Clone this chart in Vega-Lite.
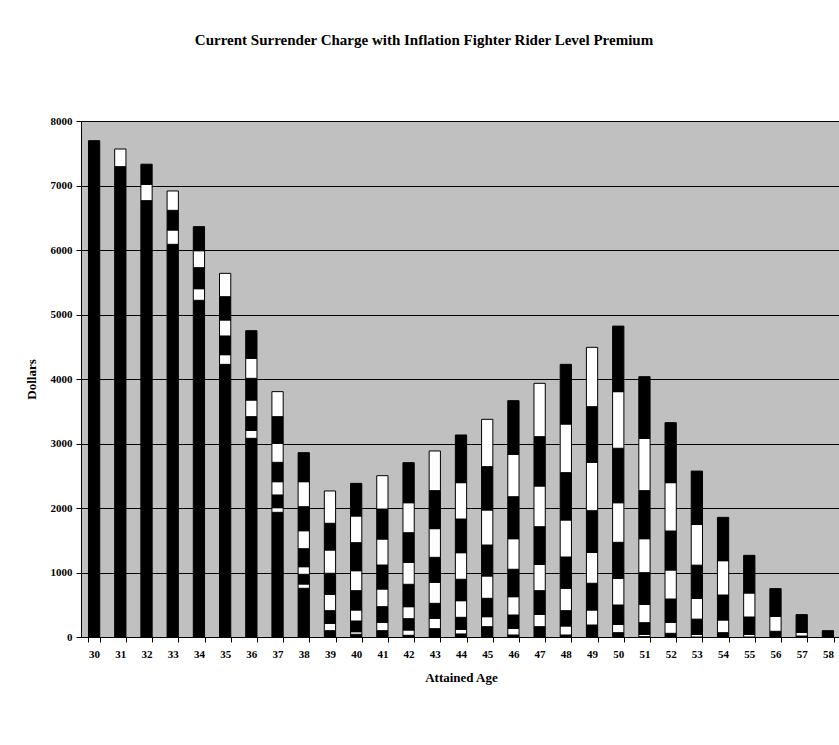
{
  "$schema": "https://vega.github.io/schema/vega-lite/v6.json",
  "width": 760,
  "height": 516,
  "autosize": {"type": "none"},
  "padding": {"left": 81, "top": 121, "right": 0, "bottom": 108},
  "background": "white",
  "title": {
    "text": "Current Surrender Charge with Inflation Fighter Rider Level Premium",
    "font": "Liberation Serif",
    "fontSize": 15,
    "fontWeight": "bold",
    "color": "black",
    "anchor": "middle",
    "dx": -37,
    "offset": 67
  },
  "data": {
    "values": [
      {"age": 30, "layer": 1, "value": 7695},
      {"age": 31, "layer": 1, "value": 7292}, {"age": 31, "layer": 2, "value": 274},
      {"age": 32, "layer": 1, "value": 6765}, {"age": 32, "layer": 2, "value": 254}, {"age": 32, "layer": 3, "value": 311},
      {"age": 33, "layer": 1, "value": 6088}, {"age": 33, "layer": 2, "value": 222}, {"age": 33, "layer": 3, "value": 305}, {"age": 33, "layer": 4, "value": 300},
      {"age": 34, "layer": 1, "value": 5220}, {"age": 34, "layer": 2, "value": 180}, {"age": 34, "layer": 3, "value": 326}, {"age": 34, "layer": 4, "value": 263}, {"age": 34, "layer": 5, "value": 373},
      {"age": 35, "layer": 1, "value": 4227}, {"age": 35, "layer": 2, "value": 150}, {"age": 35, "layer": 3, "value": 290}, {"age": 35, "layer": 4, "value": 248}, {"age": 35, "layer": 5, "value": 361}, {"age": 35, "layer": 6, "value": 362},
      {"age": 36, "layer": 1, "value": 3080}, {"age": 36, "layer": 2, "value": 124}, {"age": 36, "layer": 3, "value": 212}, {"age": 36, "layer": 4, "value": 258}, {"age": 36, "layer": 5, "value": 336}, {"age": 36, "layer": 6, "value": 311}, {"age": 36, "layer": 7, "value": 428},
      {"age": 37, "layer": 1, "value": 1933}, {"age": 37, "layer": 2, "value": 72}, {"age": 37, "layer": 3, "value": 197}, {"age": 37, "layer": 4, "value": 206}, {"age": 37, "layer": 5, "value": 300}, {"age": 37, "layer": 6, "value": 295}, {"age": 37, "layer": 7, "value": 413}, {"age": 37, "layer": 8, "value": 388},
      {"age": 38, "layer": 1, "value": 755}, {"age": 38, "layer": 2, "value": 67}, {"age": 38, "layer": 3, "value": 150}, {"age": 38, "layer": 4, "value": 118}, {"age": 38, "layer": 5, "value": 279}, {"age": 38, "layer": 6, "value": 279}, {"age": 38, "layer": 7, "value": 372}, {"age": 38, "layer": 8, "value": 388}, {"age": 38, "layer": 9, "value": 450},
      {"age": 39, "layer": 3, "value": 98}, {"age": 39, "layer": 4, "value": 114}, {"age": 39, "layer": 5, "value": 196}, {"age": 39, "layer": 6, "value": 254}, {"age": 39, "layer": 7, "value": 326}, {"age": 39, "layer": 8, "value": 361}, {"age": 39, "layer": 9, "value": 414}, {"age": 39, "layer": 10, "value": 501},
      {"age": 40, "layer": 3, "value": 42}, {"age": 40, "layer": 4, "value": 40}, {"age": 40, "layer": 5, "value": 166}, {"age": 40, "layer": 6, "value": 171}, {"age": 40, "layer": 7, "value": 299}, {"age": 40, "layer": 8, "value": 310}, {"age": 40, "layer": 9, "value": 434}, {"age": 40, "layer": 10, "value": 414}, {"age": 40, "layer": 11, "value": 506},
      {"age": 41, "layer": 5, "value": 98}, {"age": 41, "layer": 6, "value": 130}, {"age": 41, "layer": 7, "value": 242}, {"age": 41, "layer": 8, "value": 274}, {"age": 41, "layer": 9, "value": 372}, {"age": 41, "layer": 10, "value": 403}, {"age": 41, "layer": 11, "value": 465}, {"age": 41, "layer": 12, "value": 517},
      {"age": 42, "layer": 5, "value": 26}, {"age": 42, "layer": 6, "value": 83}, {"age": 42, "layer": 7, "value": 175}, {"age": 42, "layer": 8, "value": 186}, {"age": 42, "layer": 9, "value": 347}, {"age": 42, "layer": 10, "value": 341}, {"age": 42, "layer": 11, "value": 459}, {"age": 42, "layer": 12, "value": 465}, {"age": 42, "layer": 13, "value": 621},
      {"age": 43, "layer": 7, "value": 129}, {"age": 43, "layer": 8, "value": 161}, {"age": 43, "layer": 9, "value": 232}, {"age": 43, "layer": 10, "value": 326}, {"age": 43, "layer": 11, "value": 387}, {"age": 43, "layer": 12, "value": 445}, {"age": 43, "layer": 13, "value": 589}, {"age": 43, "layer": 14, "value": 615},
      {"age": 44, "layer": 7, "value": 47}, {"age": 44, "layer": 8, "value": 72}, {"age": 44, "layer": 9, "value": 186}, {"age": 44, "layer": 10, "value": 258}, {"age": 44, "layer": 11, "value": 332}, {"age": 44, "layer": 12, "value": 412}, {"age": 44, "layer": 13, "value": 522}, {"age": 44, "layer": 14, "value": 564}, {"age": 44, "layer": 15, "value": 739},
      {"age": 45, "layer": 9, "value": 160}, {"age": 45, "layer": 10, "value": 155}, {"age": 45, "layer": 11, "value": 285}, {"age": 45, "layer": 12, "value": 346}, {"age": 45, "layer": 13, "value": 480}, {"age": 45, "layer": 14, "value": 543}, {"age": 45, "layer": 15, "value": 672}, {"age": 45, "layer": 16, "value": 734},
      {"age": 46, "layer": 9, "value": 31}, {"age": 46, "layer": 10, "value": 104}, {"age": 46, "layer": 11, "value": 206}, {"age": 46, "layer": 12, "value": 284}, {"age": 46, "layer": 13, "value": 425}, {"age": 46, "layer": 14, "value": 474}, {"age": 46, "layer": 15, "value": 651}, {"age": 46, "layer": 16, "value": 658}, {"age": 46, "layer": 17, "value": 831},
      {"age": 47, "layer": 11, "value": 160}, {"age": 47, "layer": 12, "value": 192}, {"age": 47, "layer": 13, "value": 366}, {"age": 47, "layer": 14, "value": 409}, {"age": 47, "layer": 15, "value": 583}, {"age": 47, "layer": 16, "value": 631}, {"age": 47, "layer": 17, "value": 765}, {"age": 47, "layer": 18, "value": 827},
      {"age": 48, "layer": 11, "value": 31}, {"age": 48, "layer": 12, "value": 140}, {"age": 48, "layer": 13, "value": 237}, {"age": 48, "layer": 14, "value": 347}, {"age": 48, "layer": 15, "value": 485}, {"age": 48, "layer": 16, "value": 574}, {"age": 48, "layer": 17, "value": 734}, {"age": 48, "layer": 18, "value": 754}, {"age": 48, "layer": 19, "value": 925},
      {"age": 49, "layer": 13, "value": 186}, {"age": 49, "layer": 14, "value": 233}, {"age": 49, "layer": 15, "value": 414}, {"age": 49, "layer": 16, "value": 480}, {"age": 49, "layer": 17, "value": 645}, {"age": 49, "layer": 18, "value": 750}, {"age": 49, "layer": 19, "value": 863}, {"age": 49, "layer": 20, "value": 920},
      {"age": 50, "layer": 13, "value": 67}, {"age": 50, "layer": 14, "value": 130}, {"age": 50, "layer": 15, "value": 299}, {"age": 50, "layer": 16, "value": 414}, {"age": 50, "layer": 17, "value": 558}, {"age": 50, "layer": 18, "value": 614}, {"age": 50, "layer": 19, "value": 844}, {"age": 50, "layer": 20, "value": 878}, {"age": 50, "layer": 21, "value": 1016},
      {"age": 51, "layer": 13, "value": 5}, {"age": 51, "layer": 14, "value": 37}, {"age": 51, "layer": 15, "value": 180}, {"age": 51, "layer": 16, "value": 285}, {"age": 51, "layer": 17, "value": 490}, {"age": 51, "layer": 18, "value": 527}, {"age": 51, "layer": 19, "value": 745}, {"age": 51, "layer": 20, "value": 811}, {"age": 51, "layer": 21, "value": 956},
      {"age": 52, "layer": 15, "value": 57}, {"age": 52, "layer": 16, "value": 171}, {"age": 52, "layer": 17, "value": 361}, {"age": 52, "layer": 18, "value": 450}, {"age": 52, "layer": 19, "value": 604}, {"age": 52, "layer": 20, "value": 750}, {"age": 52, "layer": 21, "value": 930},
      {"age": 53, "layer": 16, "value": 40}, {"age": 53, "layer": 17, "value": 237}, {"age": 53, "layer": 18, "value": 321}, {"age": 53, "layer": 19, "value": 516}, {"age": 53, "layer": 20, "value": 631}, {"age": 53, "layer": 21, "value": 827},
      {"age": 54, "layer": 17, "value": 67}, {"age": 54, "layer": 18, "value": 197}, {"age": 54, "layer": 19, "value": 387}, {"age": 54, "layer": 20, "value": 532}, {"age": 54, "layer": 21, "value": 672},
      {"age": 55, "layer": 18, "value": 42}, {"age": 55, "layer": 19, "value": 268}, {"age": 55, "layer": 20, "value": 372}, {"age": 55, "layer": 21, "value": 584},
      {"age": 56, "layer": 19, "value": 88}, {"age": 56, "layer": 20, "value": 233}, {"age": 56, "layer": 21, "value": 429},
      {"age": 57, "layer": 19, "value": 15}, {"age": 57, "layer": 20, "value": 58}, {"age": 57, "layer": 21, "value": 274},
      {"age": 58, "layer": 21, "value": 98}
    ]
  },
  "mark": {"type": "bar", "stroke": "black", "strokeWidth": 1},
  "encoding": {
    "x": {
      "field": "age",
      "type": "ordinal",
      "scale": {"paddingInner": 0.57, "paddingOuter": 0.285},
      "axis": {
        "title": "Attained Age",
        "labelAngle": 0,
        "tickBand": "extent",
        "tickSize": 5,
        "tickColor": "black",
        "domainColor": "black",
        "labelFont": "Liberation Serif",
        "labelFontWeight": "bold",
        "labelFontSize": 11,
        "labelColor": "black",
        "labelPadding": 6,
        "titleFont": "Liberation Serif",
        "titleFontWeight": "bold",
        "titleFontSize": 13,
        "titleColor": "black",
        "titlePadding": 12
      }
    },
    "y": {
      "field": "value",
      "type": "quantitative",
      "stack": "zero",
      "scale": {"domain": [0, 8000], "nice": false},
      "axis": {
        "title": "Dollars",
        "values": [0, 1000, 2000, 3000, 4000, 5000, 6000, 7000, 8000],
        "format": "d",
        "grid": true,
        "gridColor": "black",
        "gridOpacity": 1,
        "gridWidth": 1,
        "tickSize": 5,
        "tickColor": "black",
        "domainColor": "black",
        "labelFont": "Liberation Serif",
        "labelFontWeight": "bold",
        "labelFontSize": 11,
        "labelColor": "black",
        "labelPadding": 4,
        "titleFont": "Liberation Serif",
        "titleFontWeight": "bold",
        "titleFontSize": 13,
        "titleColor": "black",
        "titlePadding": 12
      }
    },
    "color": {
      "field": "layer",
      "type": "ordinal",
      "legend": null,
      "scale": {
        "domain": [1, 2, 3, 4, 5, 6, 7, 8, 9, 10, 11, 12, 13, 14, 15, 16, 17, 18, 19, 20, 21],
        "range": ["black", "white", "black", "white", "black", "white", "black", "white", "black", "white", "black", "white", "black", "white", "black", "white", "black", "white", "black", "white", "black"]
      }
    },
    "order": {"field": "layer", "type": "quantitative", "sort": "ascending"}
  },
  "config": {
    "view": {"fill": "#C0C0C0", "stroke": "#808080"}
  }
}
